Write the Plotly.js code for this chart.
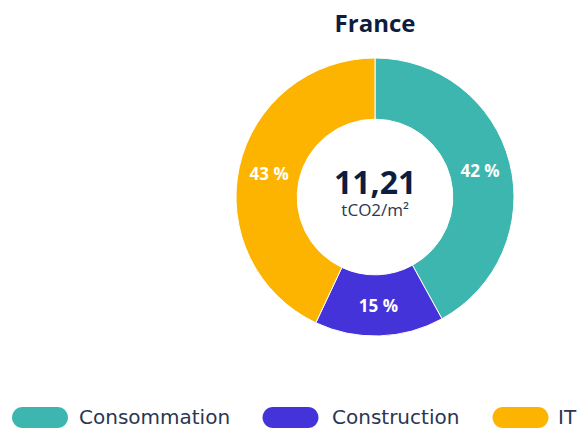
<!DOCTYPE html>
<html>
<head>
<meta charset="utf-8">
<script src="https://cdn.plot.ly/plotly-3.0.1.min.js"></script>
<style>
  html, body { margin: 0; padding: 0; background: #ffffff; }
  #chart { width: 577px; height: 429px; }
</style>
</head>
<body>
<div id="chart"></div>
<script>
// ---- data ----
const categories = ["Consommation", "Construction", "IT"];
const shares = [42, 15, 43];
const colors = ["#3db6b0", "#4533da", "#fcb400"];
const chartTitle = "France";
const totalValue = "11,21";
const totalUnit = "tCO2/m²";

// ---- layout helpers ----
const W = 577, H = 429;
const M = { l: 0, r: 0, t: 58, b: 93 };
const plotH = H - M.t - M.b;
const px2x = px => px / W;
const px2y = py => (H - M.b - py) / plotH;

const centerX = 375;
const domHalf = 0.25;

const textColor = "#2b3652";
const navy = "#0e1d3f";
const fam = "'Open Sans', 'Noto Sans', sans-serif";
const legFam = "'DejaVu Sans', 'Open Sans', sans-serif";

// legend geometry (pixel positions of pill centres and label starts)
const legendPill = [40, 290.5, 520.5];
const legendText = [77, 330, 556];
const legendY = 416.5;
const pillPath = "M-17.5,-10.5 H17.5 C23.3,-10.5 28,-5.8 28,0 C28,5.8 23.3,10.5 17.5,10.5 H-17.5 C-23.3,10.5 -28,5.8 -28,0 C-28,-5.8 -23.3,-10.5 -17.5,-10.5 Z";

const shapes = categories.map((c, i) => ({
  type: "path",
  xref: "paper", yref: "paper",
  xsizemode: "pixel", ysizemode: "pixel",
  xanchor: px2x(legendPill[i]), yanchor: px2y(legendY + 1),
  path: pillPath,
  fillcolor: colors[i],
  line: { width: 0 }
}));

const annotations = categories.map((c, i) => ({
  text: c,
  xref: "paper", yref: "paper",
  x: px2x(legendText[i]), y: px2y(legendY),
  xanchor: "left", yanchor: "middle",
  showarrow: false,
  font: { family: legFam, size: 20, color: textColor }
}));

annotations.push({
  text: "<b><span style='font-size:32px;color:" + navy + "'>" + totalValue + "</span></b><br>" + totalUnit,
  xref: "paper", yref: "paper",
  x: px2x(centerX), y: px2y(190),
  xanchor: "center", yanchor: "middle",
  align: "center",
  showarrow: false,
  font: { family: fam, size: 17, color: textColor }
});

const trace = {
  type: "pie",
  labels: categories,
  values: shares,
  hole: 0.56,
  sort: false,
  direction: "clockwise",
  rotation: 0,
  marker: { colors: colors, line: { color: "#ffffff", width: 1 } },
  textinfo: "none",
  texttemplate: "<b>%{value} %</b>",
  textposition: "inside",
  insidetextorientation: "horizontal",
  textfont: { family: fam, size: 17, color: "#ffffff" },
  hoverinfo: "none",
  showlegend: false,
  domain: { x: [px2x(centerX) - domHalf, px2x(centerX) + domHalf], y: [0, 1] }
};

const layout = {
  width: W, height: H,
  margin: M,
  paper_bgcolor: "#ffffff",
  plot_bgcolor: "#ffffff",
  showlegend: false,
  title: {
    text: "<b>" + chartTitle + "</b>",
    x: px2x(centerX), xanchor: "center", xref: "paper",
    y: 1 - 24 / H, yanchor: "middle", yref: "container",
    font: { family: fam, size: 24, color: navy }
  },
  shapes: shapes,
  annotations: annotations
};

Plotly.newPlot("chart", [trace], layout, { displayModeBar: false, staticPlot: true });
</script>
</body>
</html>
